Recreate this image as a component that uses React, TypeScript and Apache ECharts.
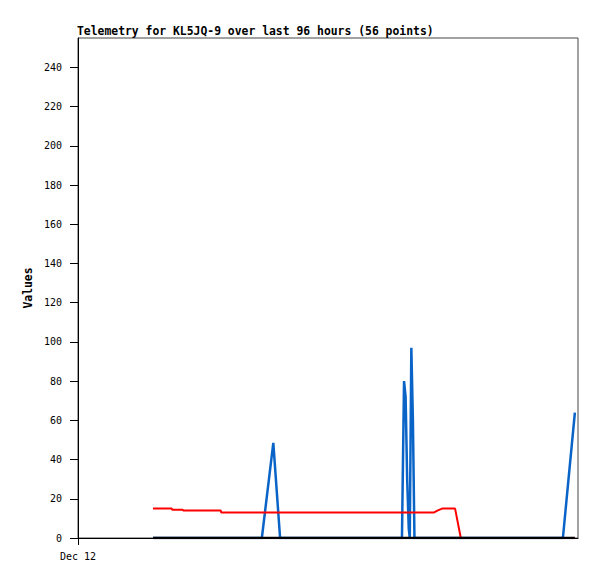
import React, { useEffect, useRef } from "react";
import * as echarts from "echarts";

// hours since Dec 12 00:00
const redTimes = [14.4, 18.0, 18.1, 20.1, 20.2, 27.4, 27.5, 68.3, 69.0, 69.9, 72.4, 73.5, 95.4];
const redValues = [15, 15, 14.4, 14.4, 14, 14, 13, 13, 14, 15, 15, 0, 0];

const blueTimes = [14.4, 35.3, 37.5, 38.8, 62.2, 62.6, 62.9, 63.2, 63.5, 63.7, 64.0, 64.3, 64.6, 93.1, 95.4];
const blueValues = [0, 0, 48.5, 0, 0, 80, 72, 30, 5, 0, 97, 60, 0, 0, 64];

const blackTimes = [14.4, 95.4];
const blackValues = [0, 0];

const yTicks = [0, 20, 40, 60, 80, 100, 120, 140, 160, 180, 200, 220, 240];
const xTicks = [0];
const xTickLabels = ["Dec 12"];

const FONT = "DejaVu Sans Mono";

function zip(t: number[], v: number[]) {
  return t.map((x, i) => [x, v[i]]);
}

export default function App() {
  const ref = useRef<HTMLDivElement>(null);
  useEffect(() => {
    if (!ref.current) return;
    const chart = echarts.init(ref.current, null, { renderer: "svg" });
    chart.setOption({
      animation: false,
      backgroundColor: "#fff",
      title: {
        text: "Telemetry for KL5JQ-9 over last 96 hours (56 points)",
        left: 64,
        top: 12,
        textStyle: { fontFamily: FONT, fontSize: 11.4, fontWeight: "bold", color: "#000" },
      },
      grid: {
        left: 70,
        top: 30,
        right: 19,
        bottom: 41,
        show: true,
        borderColor: "#444",
        borderWidth: 1,
        containLabel: false,
      },
      xAxis: {
        type: "value",
        min: 0,
        max: 96,
        splitLine: { show: false },
        axisLine: { show: true, onZero: false, lineStyle: { color: "#000", width: 1 } },
        axisTick: {
          show: true,
          length: 7,
          customValues: xTicks,
          lineStyle: { color: "#000" },
        },
        axisLabel: {
          customValues: xTicks,
          formatter: (v: number) => xTickLabels[xTicks.indexOf(v)] ?? "",
          fontFamily: FONT,
          fontSize: 10,
          color: "#000",
          margin: 13,
        },
      },
      yAxis: {
        type: "value",
        min: 0,
        max: 255,
        name: "Values",
        nameLocation: "middle",
        nameGap: 37,
        nameRotate: 90,
        nameTextStyle: { fontFamily: FONT, fontSize: 11.4, fontWeight: "bold", color: "#000" },
        splitLine: { show: false },
        axisLine: { show: true, lineStyle: { color: "#000", width: 1 } },
        axisTick: {
          show: true,
          length: 8,
          customValues: yTicks,
          lineStyle: { color: "#000" },
        },
        axisLabel: {
          customValues: yTicks,
          fontFamily: FONT,
          fontSize: 10,
          color: "#000",
          margin: 16,
        },
      },
      series: [
        {
          type: "line",
          data: zip(blueTimes, blueValues),
          showSymbol: false,
          lineStyle: { color: "#0a64c8", width: 2.5 },
          itemStyle: { color: "#0a64c8" },
          z: 2,
        },
        {
          type: "line",
          data: zip(redTimes, redValues),
          showSymbol: false,
          lineStyle: { color: "#ff0000", width: 2 },
          itemStyle: { color: "#ff0000" },
          z: 3,
        },
        {
          type: "line",
          data: zip(blackTimes, blackValues),
          showSymbol: false,
          lineStyle: { color: "#000", width: 2.5 },
          itemStyle: { color: "#000" },
          z: 4,
        },
      ],
    });
    return () => chart.dispose();
  }, []);
  return <div ref={ref} style={{ width: 589, height: 571 }} />;
}
